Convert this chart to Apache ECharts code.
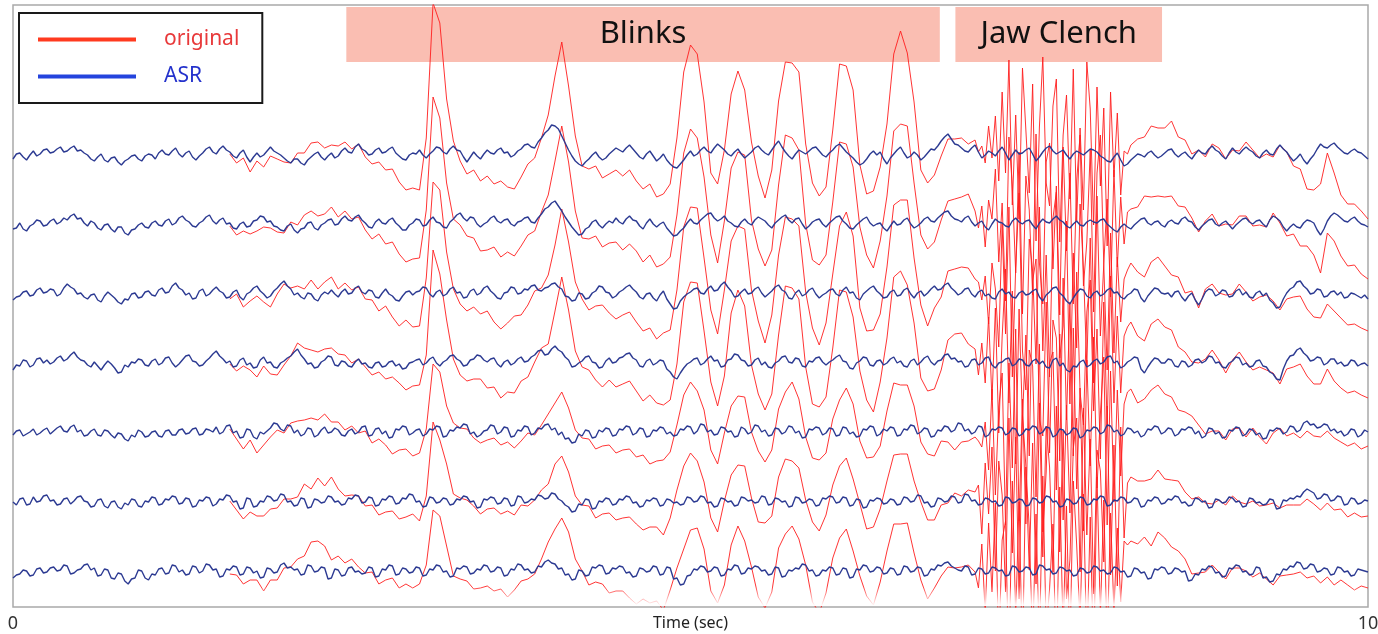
<!DOCTYPE html>
<html>
<head>
<meta charset="utf-8">
<title>original vs ASR</title>
<script src="https://cdn.jsdelivr.net/npm/echarts@6/dist/echarts.min.js"></script>
<style>
  html, body { margin: 0; padding: 0; background: #fff; }
  #chart { width: 1378px; height: 634px; }
</style>
</head>
<body>
<div id="chart"></div>
<script>
// 时间轴：0 ~ 10 s，每 0.025 s 一个采样
const t = []
for (let i = 0; i <= 400; i++) t.push(+(i * 0.025).toFixed(3))

// ASR 清洗后的 7 个通道（幅值，向上为正）
const asr1 = [
  -3, 2, 3,-1,-4, 1, 5, 0, 2, 6, 7, 3, 4, 7, 9, 4, 5, 8, 10, 5,
  6, 3, 1,-3,-5,-1, 2,-4,-6,-2,-1,-6,-9,-5,-3, 0, 1,-3,-5, 0,
  2, 1,-3, 3, 6, 2, 1, 5, 8, 2,-1, 3, 5,-1,-4, 0, 3, 7, 9, 4,
  2, 7, 10, 6, 4, 0,-2, 3, 6,-1,-6,-1, 3,-1, 1, 5, 9, 5, 3, 1,
  -2,-5,-7,-3,-3,-7,-9,-4,-1, 2, 4,-1,-4, 0, 3,-2, 0, 5, 8, 4,
  3, 9, 12, 7, 5, 1, 2, 6, 8, 3, 4, 7, 9, 3, 0,-3,-4, 1, 3, 2,
  6, 1,-2, 2, 5, 9, 8, 4, 2, 7, 10, 6, 5,-1,-6,-1, 4, 0,-3, 2,
  6, 3, 2, 6, 8, 3, 4,-1, 1, 5, 7, 11, 12, 9, 8, 14, 18, 23, 26, 31,
  30, 27, 20, 13, 6, 0,-5,-8,-10,-6,-3, 1, 4,-1,-4,-2, 2, 5, 8, 6,
  4, 8, 11, 7, 3,-1,-3, 2, 5, 0,-5,-2, 2,-4,-8,-11,-12,-8,-4, 1,
  5, 0, 2, 6, 9, 5, 3, 8, 12, 9, 6, 2, 0, 4, 7, 2,-2, 1, 4, 8,
  10, 6, 3, 1, 6, 11, 15, 9, 4, 0,-3, 2, 6, 4, 2, 5, 8, 9, 5, 1,
  -1, 3, 6, 10, 12, 8, 4, 1,-2,-6,-9,-7,-3, 2, 5, 1, 4,-3,-8,-2,
  2, 6, 9, 3,-2, 0, 4, 1,-4,-1, 3, 7, 6, 10, 15, 19, 22, 17, 12, 11,
  8, 5, 4, 8, 11, 4,-2, 1, 5, 3, 0, 5, 9, 3,-4, 1, 6, 2, 3, 6,
  8, 2,-5,-1, 4, 8, 10, 5, 2, 4, 6, 1,-3, 2, 5, 3, 1, 4, 7, 6,
  4, 0,-2,-5,-6,-1, 3,-4,-10,-8,-4,-1, 2, 1,-1, 3, 5, 1,-2, 0,
  3, 6, 7, 2,-1, 2, 4, 0,-3, 2, 6, 3, 2, 7, 10, 6, 4, 0,-3, 3,
  8, 4, 2, 6, 9, 6, 4, 0,-2, 3, 6, 2, 1, 7, 11, 7, 4,-1,-5,-2,
  2,-4,-8,-3, 1, 7, 12, 9, 8, 11, 13, 9, 6, 3, 2, 5, 7, 4, 3, 0,
  -3
]
const asr2 = [
  -4,-3, 2,-4,-6,-1, 1, 5, 4,-1, 0, 4, 6, 1, 3, 7, 5, 9, 11, 6,
  7, 2,-1, 4, 2,-3,-5, 0, 1,-4,-7,-2,-2,-8,-10,-5,-4, 0, 2,-2,
  -3, 2, 4, 0,-1, 4, 6, 0, 2, 7, 9, 5, 3,-1,-2, 2, 4, 8, 10, 4,
  1, 5, 7, 1, 2,-3,-4, 1, 3,-2,-1, 4, 5, 9, 8, 3, 4,-1,-2,-5,
  -6,-1, 1,-5,-8,-4,-3, 2, 3,-3,-5, 0, 2, 5, 6, 0, 1, 6, 9, 5,
  4, 8, 10, 5, 2,-2,-3, 3, 6, 2, 1, 5, 7, 2,-1,-5,-5, 0, 2, 6,
  5,-1, 0, 5, 8, 3, 2,-2,-3, 3, 6, 10, 12, 7, 4, 8, 7, 1,-2, 1,
  3, 7, 9, 4, 2, 5, 6, 1,-1, 3, 4, 7, 8, 3, 2, 7, 11, 16, 18, 22,
  24, 19, 14, 8, 3,-2,-6,-10,-9,-4,-2, 3, 5, 0,-3, 1, 4, 2, 7, 3,
  1, 6, 9, 5, 4,-1,-4, 2, 6, 1,-2, 1, 3,-3,-7,-11,-10,-6,-3, 2,
  6, 2, 1, 5, 8, 11, 12, 7, 4, 6, 9, 4, 2,-1,-2, 3, 6, 2, 0, 5,
  8, 6, 4, 0,-3, 2, 5, 8, 10, 5, 2, 6, 7, 1,-4,-1, 3, 5, 6, 1,
  -2, 2, 5, 8, 9, 4, 1,-3,-4, 0, 3, 6, 8, 2,-1, 1, 2,-3,-6,-1,
  4, 0, 1, 5, 7, 1,-3,-1, 2, 6, 8, 4, 3, 7, 10, 13, 14, 9, 6, 5,
  3, 7, 9, 3,-1, 2, 4,-2,-5, 1, 6, 3, 2,-1,-2, 4, 7, 3, 1, 4,
  5, 0,-4, 2, 6, 3, 2, 6, 9, 5, 3,-1,-3, 1, 4, 0,-1, 3, 5, 3,
  2, 5, 6, 1,-2,-5,-7,-2, 1,-2,-4, 0, 3, 6, 7, 2, 0, 3, 4, 0,
  -2, 3, 5, 2, 1, 6, 8, 4, 3,-2,-5,-1, 2, 5, 6, 1,-1, 2, 4, 0,
  -4, 0, 3, 6, 7, 3, 1, 4, 5, 1,-2, 5, 9, 7, 4,-2,-6,-2, 1,-2,
  -3, 2, 5, 4, 2,-5,-10,-4, 4, 9, 12, 10, 7, 4, 3, 6, 8, 4, 1, 0,
  -2
]
const asr3 = [
  -5,-2,-1, 3, 4,-1, 0, 5, 7, 2, 3, 6, 5,-1, 1, 7, 11, 8, 6, 1,
  2,-2,-4, 0, 1,-5,-7,-1, 3, 0,-3,-7,-9,-4,-5, 1, 2,-3,-2, 3,
  4, 0,-1, 5, 7, 2, 3, 9, 12, 7, 5, 0, 2,-4,-3, 4, 6,-1, 1, 5,
  8, 4, 2,-3,-2, 3, 5,-2,-5, 1, 3, 7, 9, 4, 1,-3,-1, 4, 7, 11,
  14, 9, 6, 0, 2,-2,-4, 2, 1,-4,-6, 0, 3, 1, 5, 1,-2, 3, 6, 1,
  2, 7, 9, 3, 1, 5, 4,-2,-3, 2, 6, 1,-1,-5,-6,-1, 3, 4, 0, 3,
  4, 8, 7, 1,-2, 3, 5,-1, 1, 6, 8, 2, 3,-3,-2, 4, 6, 0, 2, 7,
  9, 4, 1,-3,-4, 2, 3, 8, 7, 1, 2, 6, 5, 9, 10, 5, 4, 7, 8, 11,
  12, 8, 6,-1,-2,-6,-5, 2, 1,-4,-3, 2, 4, 9, 8, 3, 2,-3,-1, 3,
  5, 8, 10, 6, 3,-2,-4, 1, 2,-3,-6, 0, 4,-4,-9,-14,-13,-6,-2, 1,
  3, 6, 7, 2, 1, 6, 9, 4, 5, 10, 13, 8, 4,-2,-1, 3, 6, 1, 2, 6,
  8, 2,-2, 1, 4, 8, 10, 5, 3,-3,-4, 2, 5,-1, 1, 5, 7, 1,-3, 0,
  2, 5, 6, 1,-1, 5, 8, 2, 3,-3,-5, 1, 4, 7, 9, 4, 1,-3,-2, 3,
  5,-1, 0, 5, 7, 1,-3, 2, 4,-1, 2, 6, 9, 5, 6, 10, 12, 7, 4, 0,
  2, 6, 7, 1,-2, 3, 5,-1, 1,-3,-4, 3, 6, 1, 3,-2,-3, 2, 4, 0,
  1, 4, 6,-2,-6, 0, 3, 7, 8, 2,-1,-6,-9,-3, 2, 6, 5,-1,-3, 2,
  4,-1, 1, 5, 7, 2, 3,-2,-4, 0, 2, 6, 5,-3,-7,-1, 3, 7, 6, 2,
  1, 2,-2, 3, 4,-2,-6,-1, 2,-5,-10,-4, 3, 6, 5,-1, 1, 5, 4,-2,
  -1, 4, 6, 0, 3,-2,-3, 2, 4,-1, 2,-5,-8,-13,-12,-4, 2, 6, 8, 13,
  14, 9, 6, 1, 2, 6, 5,-2,-1, 3, 4, 0, 3,-3,-2, 2, 1,-1,-3, 0,
  -4
]
const asr4 = [
  -6,-1,-2, 4, 3,-3,-1, 5, 6, 1, 4, 0, 2, 6, 8, 3, 5, 9, 12, 7,
  4, 3,-1,-3, 2,-2,-6,-1, 3, 0,-4,-9,-8,-1,-3, 2, 1, 5, 4,-1,
  -2, 3, 5,-1, 1, 6, 7, 1,-3, 0, 4, 8, 9, 3, 2,-2,-1, 3, 6, 10,
  13, 8, 5, 1, 3,-3,-2, 4, 6,-1, 1,-4,-3, 4, 7, 1, 2,-3,-4, 1,
  3, 6, 8, 12, 15, 9, 5, 0, 1,-4,-3, 2, 4, 8, 7,-1,-2, 3, 2,-2,
  -3, 2, 5, 0, 1,-3,-4, 1, 2,-3,-2, 2, 3,-2, 0,-5,-4, 1, 2, 4,
  5,-1, 1, 5, 7, 1,-2, 2, 4, 8, 9, 5, 3,-2,-1, 4, 5, 9, 8, 4,
  2, 5, 6, 0,-3, 2, 4,-1, 1, 5, 7, 2, 3, 7, 9, 13, 14, 9, 10, 15,
  18, 14, 12, 7, 4,-3,-2, 1, 3, 7, 8, 2, 1,-4,-3, 3, 6, 1, 2, 6,
  7, 10, 11, 6, 4,-2,-3, 3, 5,-1, 1, 4, 3,-5,-8,-13,-15,-9,-4, 0,
  2, 5, 6,-1, 1, 5, 8, 3, 4,-3,-2, 4, 5, 10, 9, 4, 3,-2,-1, 4,
  6,-1, 2,-3,-4, 1, 3, 7, 8, 2, 1, 6, 5,-2,-3, 3, 2, 6, 7, 2,
  -1, 2, 4, 7, 9, 3, 2,-4,-5, 1, 3, 7, 6,-1,-2, 3, 4,-1, 1, 5,
  7, 1, 3,-2,-3, 3, 5,-1, 2, 6, 8, 2,-1, 3, 4, 9, 10, 5, 6, 2,
  3,-3,-2, 4, 5,-1, 1, 6, 7,-1,-4, 1, 2, 5, 6,-2, 0, 5, 4,-1,
  -2, 3, 5, 0, 3,-3,-4, 4, 6,-2, 1,-6,-8,-2,-3, 2, 4,-3,-1, 3,
  5, 0, 2, 7, 8, 1, 3,-4,-2, 2, 4, 7, 6,-5,-9,-3, 2, 6, 5, 1,
  1, 5, 4,-2,-3, 3, 2,-3,-1, 4, 5, 1, 3, 8, 7, 1, 2,-3,-4, 1,
  3, 7, 6,-1, 1,-3,-2, 3, 4,-2,-3,-8,-10,-15,-16,-5, 3, 8, 9, 14,
  16, 11, 8, 3, 4, 7, 6,-1, 1, 5, 5, 0, 2,-2,-1, 4, 3,-2, 0, 1,
  -2
]
const asr5 = [
  -2, 2, 3,-3,-1, 1, 4,-2, 0, 3, 5,-1, 2, 5, 7, 2, 1, 6, 8, 1,
  3,-3,-2, 2, 4,-2,-3, 3, 2,-2,-5, 0,-1,-6,-8,-2,-4, 3, 1,-4,
  -3, 1, 2,-3,-4, 2, 3,-2,-2, 3, 4,-1, 0, 4, 5,-2,-1, 4, 3, 1,
  6,-1, 1, 7, 8, 0, 2,-5,-4, 4, 3,-4,-6, 1,-1, 2, 5, 10, 9, 4,
  2, 8, 7, 0, 3,-3,-1, 5, 4,-4,-2, 3, 6, 0, 1, 5, 3,-2,-3, 2,
  4,-1, 1, 6, 7,-3,-2, 4, 5,-1, 2,-5,-4, 4, 3, 7, 6,-2, 0, 3,
  4,-3,-1, 4, 3, 7, 6,-4,-3, 3, 2, 6, 5, 9, 8,-1, 1,-4,-2, 2,
  3, 8, 7,-1, 1, 6, 5,-4,-3, 3, 2, 7, 6,-2, 0, 5, 4, 8, 9, 3,
  5,-2, 1,-6,-5,-10,-9,-1,-3, 3, 2,-5,-4, 3, 1, 5, 4,-3,-2, 4,
  3, 7, 6,-2, 0, 5, 4,-4,-3, 3, 2, 6, 5,-1, 1,-3,-2, 4, 3, 7,
  6,-1, 2, 9, 8, 1, 3,-2,-1, 6, 5, 1, 2,-4,-3, 6, 4,-1, 1, 8,
  7, 1, 3,-3,-2, 5, 4,-1, 1, 7, 6, 0, 2,-5,-4, 4, 3, 6, 5,-2,
  0, 5, 4,-3,-2, 6, 5,-1, 1,-4,-3, 4, 3, 7, 6,-3,-1, 4, 2, 6,
  5,-3,-2, 4, 3, 8, 7,-1, 1, 5, 4,-4,-3, 3, 2, 7, 6, 1, 3, 10,
  9, 2, 4,-1, 1, 7, 6,-4,-2, 4, 3, 6, 5,-2, 0, 5, 4,-3,-1, 4,
  3, 7, 6,-1, 1, 6, 5,-4,-2, 4, 3,-2, 0, 5, 4,-5,-3, 3, 2, 6,
  5,-1, 1, 8, 7, 1, 3,-3,-1, 5, 4, 0, 2,-4,-2, 4, 3, 7, 6,-1,
  1, 5, 4,-3,-1, 4, 3, 6, 5,-1, 2,-5,-3, 5, 4,-1, 1,-5,-4, 3,
  2, 6, 5,-3,-1, 4, 3,-2, 0,-6,-5, 3, 2, 5, 4,-1, 1, 7, 6, 1,
  3, 10, 12, 8, 9, 5, 6, 9, 8, 2, 4, 0, 2,-3,-1, 4, 3,-4,-2, 3,
  1
]
const asr6 = [
  1,-2, 4, 5,-2,-1, 6, 1, 2, 7, 8, 2, 3,-2,-1, 4, 5,-1, 2, 6,
  7, 2, 1,-4,-3, 3, 4,-3,-5, 1, 2,-4,-6, 0,-2, 4, 3,-3,-4, 2,
  1, 6, 5,-2,-1, 4, 3, 7, 6,-1, 0, 5, 4,-4,-3, 3, 2, 6, 5,-3,
  -1, 4, 3, 8, 7, 1, 2,-6,-5, 5, 4,-4,-3, 2, 1, 7, 6, 2, 3, 9,
  8, 1, 2,-3,-2, 5, 4,-5,-4, 4, 3, 0, 1, 7, 6, 1, 2,-2,-1, 5,
  4, 8, 7, 0, 1, 6, 5,-3,-2, 4, 3, 7, 6,-1, 0, 5, 4, 9, 8, 1,
  2,-4,-3, 6, 5, 0, 1, 5, 4,-2,-1, 4, 3, 7, 6, 1, 2,-5,-4, 4,
  3, 6, 5,-1, 0, 5, 4,-3,-2, 7, 6, 0, 1, 4, 3, 8, 7, 4, 5, 10,
  9, 4, 2,-2,-4,-9,-8,-1,-2, 4, 3,-6,-5, 2, 1, 5, 4,-2,-1, 4,
  3, 7, 6, 0, 1,-4,-3, 3, 2, 5, 4,-3,-2, 4, 3, 0, 1,-2,-1, 6,
  5, 1, 2, 7, 6, 0, 1,-4,-3, 5, 4, 1, 2,-3,-2, 6, 5, 2, 3, 0,
  1, 7, 6,-2,-1, 5, 4, 1, 2,-4,-3, 6, 5, 0, 1, 4, 3,-3,-2, 5,
  4, 7, 6, 0, 1, 6, 5,-3,-2, 4, 3,-5,-4, 3, 2, 5, 4,-1, 0, 4,
  3,-2,-1, 6, 5, 1, 2, 8, 7, 0, 1,-4,-3, 5, 4, 1, 2, 7, 6, 0,
  1, 9, 8, 2, 3,-2,-1, 5, 4, 1, 2,-3,-2, 6, 5, 0, 1, 4, 3,-3,
  -2, 5, 4, 0, 1, 7, 6, 1, 2,-4,-3, 4, 3,-1, 0, 6, 5,-2,-1, 4,
  3, 7, 6,-3,-2, 3, 2, 6, 5, 0, 1, 5, 4,-4,-3, 3, 2, 6, 5,-1,
  0, 4, 3, 7, 6, 0, 1,-3,-2, 5, 4, 1, 2,-5,-4, 4, 3, 0, 1, 6,
  5, 1, 2,-4,-3, 5, 4, 0, 1,-2,-1, 4, 3,-6,-5, 3, 2, 5, 4, 7,
  6, 11, 14, 12, 10, 4, 5, 9, 8, 2, 3, 7, 6,-2,-1, 5, 4,-1, 0, 3,
  2
]
const asr7 = [
  -6,-3,-2, 2, 1,-4,-3, 3, 4,-1, 0, 4, 5, 1, 2, 7, 6,-2,-1, 2,
  3, 7, 8, 2, 4,-4,-3, 3, 2,-6,-7,-1,-2,-9,-12,-7,-6, 2, 1,-6,
  -8,-2,-3, 3, 4,-2,-1, 7, 6, 0, 2,-3,-2, 6, 5,-1, 1, 8, 7, 2,
  3,-5,-4, 3, 2, 6, 5,-3,-2, 5, 4,-1, 1,-6,-5, 4, 3,-1, 0, 7,
  9, 4, 5, 2, 3,-3,-2, 7, 6, 0, 1, 5, 4,-7,-6, 3, 2,-4,-3, 4,
  5, 0, 1,-2,-1, 5, 4,-5,-4, 3, 2, 7, 6,-3,-2, 4, 3,-1, 0, 5,
  4,-4,-3, 3, 2, 7, 6, 0, 1,-5,-4, 4, 3, 6, 5,-2,-1, 3, 2, 7,
  6, 0, 1, 5, 4,-4,-3, 3, 2, 8, 7, 2, 3,-1, 0, 6, 5, 10, 12, 9,
  8, 3, 4,-3,-2,-8,-7, 2, 1,-4,-3, 5, 4, 7, 6,-2,-1, 4, 3, 6,
  5,-1, 0,-5,-4, 4, 3, 0, 1, 6, 5,-3,-2, 5, 4,-7,-6,-13,-12,-4,
  -3, 3, 2, 6, 5, 0, 1, 5, 4,-4,-3, 3, 2, 7, 6,-2,-1, 4, 3, 6,
  5, 1, 2,-3,-2, 5, 4,-5,-4, 2, 1, 4, 3, 8, 7, 1, 2,-4,-3, 2,
  1, 5, 4,-3,-2, 4, 3,-6,-5, 3, 2, 7, 6, 0, 1, 5, 4,-2,-1, 4,
  3,-3,-2, 6, 5, 0, 1, 5, 4,-4,-3, 3, 2, 7, 6, 9, 10, 6, 4, 2,
  1, 6, 5,-3,-2, 4, 3,-2,-1, 5, 4, 1, 2,-4,-3, 6, 5, 0, 1, 5,
  4,-3,-2, 7, 6, 2, 3,-2,-1, 5, 4, 1, 2,-4,-3, 4, 3,-1, 0, 6,
  5, 1, 2,-2,-1, 5, 4, 0, 1,-5,-4, 4, 3,-1, 0,-7,-6, 3, 2, 5,
  4,-2,-1, 4, 3, 0, 1,-9,-8,-2,-3, 3, 2, 6, 5,-1, 0,-5,-4, 4,
  3, 7, 6, 0, 1,-3,-2, 5, 4,-6,-5,-10,-9,-2,-3, 3, 2, 6, 5, 10,
  9, 3, 4, 8, 7, 0, 1, 4, 3,-3,-2, 5, 4, 0, 1,-4,-3, 3, 2, 1,
  0
]

// original 与 ASR 之差：眨眼段（1.6 ~ 7.1 s，每 0.05 s）
const blinkStart = 64
const blinkArt1 = [
  -2,-5,-8,-10,-8,-12,-9,-6,-4, 0,   6, 12, 14, 10, 12, 8, 10, 6, 4, 0,
  -6,-10,-14,-18,-22,-26,-30,-35,-40, 20,   148, 125, 55, 5,-10,-12,-18,-22,-26,-30,
  -33,-35,-34,-28,-20,-10, 0, 15, 50, 94,   64, 25, 0,-10,-14,-18,-20,-22,-24,-25,
  -28,-30,-33,-36,-40,-20, 30, 88, 106, 100,   45,-20,-40, 0, 62, 78, 68, 10,-30,-45,
  -20, 40, 90, 96, 78, 10,-35,-45,-30, 20,   80, 86, 68, 0,-35,-40,-15, 40, 100, 116,
  105, 50,-10,-30,-25,-15,-5, 5, 10, 8,   5
]
const blinkArt2 = [
  -3,-6,-9,-8,-11,-10,-7,-5,-2, 2,   8, 13, 11, 14, 9, 12, 7, 5, 2,-2,
  -7,-11,-15,-20,-24,-28,-32,-36,-38, 15,   120, 105, 45, 0,-12,-15,-20,-24,-28,-31,
  -34,-33,-30,-25,-18,-8, 2, 12, 40, 85,   60, 20,-4,-12,-16,-19,-22,-24,-26,-28,
  -30,-33,-36,-40,-42,-25, 20, 75, 90, 86,   40,-22,-42,-5, 55, 75, 64, 5,-32,-45,
  -22, 35, 80, 85, 68, 5,-38,-46,-28, 18,   74, 80, 62,-5,-38,-42,-18, 35, 90, 100,
  92, 45,-12,-32,-20,-5, 10, 20, 25, 22,   15
]
const blinkArt3 = [
  -2,-4,-7,-9,-10,-8,-11,-6,-3, 1,   7, 10, 14, 12, 10, 13, 8, 6, 3,-1,
  -5,-9,-13,-17,-21,-25,-28,-32,-35, 10,   115, 100, 42,-2,-12,-14,-18,-21,-25,-28,
  -30,-31,-28,-22,-15,-6, 3, 12, 38, 80,   55, 18,-5,-12,-15,-18,-20,-23,-25,-27,
  -30,-32,-35,-38,-42,-26, 18, 70, 85, 80,   36,-24,-44,-8, 50, 70, 60, 3,-34,-46,
  -24, 30, 75, 80, 64, 2,-40,-47,-30, 15,   70, 75, 56,-8,-40,-44,-20, 30, 85, 95,
  88, 40,-14,-33,-22,-8, 12, 22, 26, 20,   18
]
const blinkArt4 = [
  -3,-5,-8,-7,-10,-9,-12,-7,-4, 0,   6, 11, 13, 15, 11, 9, 12, 7, 4, 0,
  -4,-7,-10,-13,-16,-19,-22,-24,-26, 8,   107, 92, 40,-4,-14,-16,-20,-23,-26,-29,
  -31,-32,-30,-24,-16,-7, 2, 10, 35, 75,   50, 15,-6,-14,-17,-20,-22,-25,-27,-28,
  -31,-34,-36,-40,-44,-28, 15, 66, 80, 75,   32,-26,-46,-10, 46, 65, 55, 0,-36,-48,
  -26, 26, 70, 75, 60, 0,-42,-50,-32, 12,   65, 70, 52,-10,-42,-46,-22, 25, 80, 90,
  82, 36,-16,-35,-24,-10, 14, 24, 28, 22,   10
]
const blinkArt5 = [
  -4,-8,-12,-10,-14,-11,-9,-6,-2, 3,   9, 14, 11, 15, 13, 10, 8, 6, 3,-1,
  -5,-8,-11,-14,-17,-20,-22,-23,-24, 5,   66, 55, 30, 8, 0,-4,-6,-8,-10,-12,
  -13,-14,-12,-10,-6,-2, 4, 10, 25, 40,   30, 12,-2,-8,-12,-14,-16,-18,-20,-22,
  -24,-26,-28,-30,-32,-20, 10, 35, 45, 40,   15,-20,-30,-5, 25, 40, 32, 0,-25,-32,
  -15, 20, 40, 45, 32, 0,-28,-32,-20, 10,   35, 40, 28,-5,-28,-30,-12, 20, 45, 50,
  45, 20,-10,-25,-20,-10,-15,-20,-18,-12,   -5
]
const blinkArt6 = [
  -5,-9,-11,-13,-10,-14,-12,-8,-4, 2,   8, 15, 18, 22, 16, 20, 12, 8, 4, 0,
  -4,-7,-10,-12,-14,-16,-18,-19,-20, 10,   76, 62, 35, 10, 2,-3,-5,-7,-9,-10,
  -11,-12,-10,-8,-4, 0, 6, 14, 30, 45,   35, 15, 0,-6,-10,-12,-14,-16,-18,-20,
  -22,-24,-26,-28,-30,-18, 12, 38, 45, 40,   15,-16,-26,-2, 26, 40, 32, 2,-20,-26,
  -12, 22, 42, 45, 30, 2,-22,-26,-16, 12,   36, 40, 26,-4,-22,-26,-10, 22, 45, 50,
  44, 20,-6,-18,-14,-6,-2, 4, 6, 5,   8
]
const blinkArt7 = [
  -4,-8,-10,-12,-9,-14,-11,-8,-5, 0,   10, 18, 24, 30, 22, 18, 14, 12, 8, 4,
  0,-4,-8,-10,-12,-14,-15,-16,-16, 10,   60, 50, 25, 0,-10,-14,-16,-18,-20,-20,
  -21,-22,-20,-16,-10,-2, 8, 18, 35, 50,   42, 20, 0,-10,-14,-18,-20,-22,-24,-26,
  -28,-30,-32,-34,-36,-22, 10, 35, 45, 42,   18,-20,-35,-10, 25, 40, 32, 2,-30,-38,
  -18, 20, 42, 45, 30, 0,-32,-38,-22, 10,   36, 40, 26,-6,-30,-34,-14, 22, 45, 50,
  44, 18,-12,-24,-18,-10,-5, 0, 4, 2,   2
]

// 咬牙段（7.125 ~ 8.25 s，每 0.025 s）
const jawStart = 285
const jawArt1 = [0, 12,-8, 25,-5, 40,-30, 55,-20, 100,-50, 35,-65, 85, 20,-45, 70,-80, 30, 95,-35,-60, 45, 75,-90, 15, 60,-40, 85,-70, 25,-55, 90, 40,-75, 65,-30, 50,-85, 70,-20, 40,-35, 15, 10, 15]
const jawArt2 = [-5, 15,-20, 30, 5, 50,-40, 20,-75, 90, 35,-55, 70,-90, 45, 10,-70, 95,-40,-85, 60, 80,-50, 30,-95, 75,-25, 55,-80, 40, 90,-60,-20, 70,-90, 50, 85,-45, 25,-70, 60,-35, 30,-20, 15, 20]
const jawArt3 = [10,-10, 20,-30, 35, 10,-55, 65,-40, 85,-80, 30, 100,-60,-95, 55, 20,-75, 90,-50, 40,-85, 70, 95,-65,-30, 80,-100, 45,-55, 85, 20,-70, 60,-90, 95,-40, 30,-80, 55,-60, 35,-25, 20, 25, 30]
const jawArt4 = [-10, 20,-25, 40,-35, 60,-70, 25, 90,-45, 75,-100, 50,-60, 30,-90, 80, 100,-55,-75, 65,-85, 40, 20,-95, 85,-50, 70,-90, 95,-30,-65, 55, 85,-50, 30,-95, 60,-70, 80,-40, 45,-25, 30, 35, 38]
const jawArt5 = [-15,-20, 15,-35, 40,-65, 20, 55,-90, 70,-40, 100,-85, 35,-95, 80, 60,-70, 90,-100,-45, 65, 85,-55, 95,-90, 30,-80, 100,-60, 50,-95, 70,-35, 90,-60, 20, 75,-100, 55,-70, 40,-40, 30, 36, 40]
const jawArt6 = [20,-30, 35,-15, 55,-70, 45, 10,-95, 80,-50, 65,-100, 85, 40,-65, 55,-85, 100,-55, 70, 30,-70, 95,-45, 75,-100,-60, 55, 85,-75, 90,-30, 65,-95, 50, 25,-65, 100,-70, 55,-85, 70,-40, 20, 25]
const jawArt7 = [-20, 25,-40, 50,-25, 65,-80, 30, 55,-100, 85,-50, 70,-90, 100, 40,-70, 60,-85, 90,-60,-20, 50,-100, 80,-65, 65,-85, 95, 30,-55, 75,-80, 55,-100, 90,-45, 70,-75, 60,-45, 40,-30, 30, 32, 35]

// 咬牙之后（8.3 ~ 10 s，每 0.05 s）
const tailStart = 332
const tailArt1 = [15, 20, 25, 30, 25, 28, 20, 12, 5, 0,-3, 2, 4, 0,-2, 3, 5, 2, 0,-4,-2, 0, 0,-5,-15,-25,-35,-40,-5,-30,-45,-50,-55,-58,-60]
const tailArt2 = [15, 22, 28, 25, 30, 24, 18, 10, 4,-2, 2, 5, 0,-3, 4, 6, 2,-2,-5, 0, 3,-2,-5,-10,-18,-26,-32,-38,-12,-28,-38,-44,-48,-50,-52]
const tailArt3 = [18, 25, 30, 32, 28, 22, 14, 8, 2,-3, 3, 6, 1,-4, 2, 5, 0,-3,-6,-2, 2,-3,-6,-10,-15,-20,-24,-28,-8,-20,-26,-28,-30,-30,-32]
const tailArt4 = [22, 32, 38, 40, 36, 30, 20, 10, 3,-4, 2, 7, 2,-5, 1, 6, 1,-4,-7,-3, 1,-4,-8,-12,-16,-20,-24,-26,-6,-22,-26,-28,-30,-31,-32]
const tailArt5 = [28, 36, 40, 42, 38, 32, 24, 18, 12, 6, 2,-2, 1,-3, 2, 0,-3, 2,-4,-6,-2, 1,-4,-6,-8,-10,-12,-10,-6,-9,-11,-12,-13,-14,-14]
const tailArt6 = [18, 25, 22, 28, 24, 20, 16, 10, 6, 2,-2, 3, 0,-3, 2,-1, 2,-2,-4,-1,-3, 0,-4,-6,-8,-10,-11,-12,-8,-10,-12,-13,-14,-14,-15]
const tailArt7 = [25, 35, 32, 38, 30, 26, 18, 12, 6, 2,-2, 2, 0,-3, 1,-2, 0,-3,-5,-2,-4,-1,-5,-7,-9,-10,-11,-12,-8,-11,-12,-14,-15,-16,-16]

const asr = [asr1, asr2, asr3, asr4, asr5, asr6, asr7]
const blinkArt = [blinkArt1, blinkArt2, blinkArt3, blinkArt4, blinkArt5, blinkArt6, blinkArt7]
const jawArt = [jawArt1, jawArt2, jawArt3, jawArt4, jawArt5, jawArt6, jawArt7]
const tailArt = [tailArt1, tailArt2, tailArt3, tailArt4, tailArt5, tailArt6, tailArt7]

// 标注区间（秒）
const bands = [
  {name: 'Blinks', from: 2.46, to: 6.84},
  {name: 'Jaw Clench', from: 6.955, to: 8.48}
]
const xTicks = [0, 10]

// 布局：绘图区像素范围、各通道基线的像素位置
const plotTop = 5
const plotBottom = 607
const centers = [156, 225, 295, 364, 433, 503, 572]
const bandTop = 7
const bandBottom = 62

const RED = 'rgba(255,30,30,0.9)'
const BLUE = '#2c3a92'

// 1. 初始化
const myChart = echarts.init(document.getElementById('chart'))

// 2. 组装 series：original = ASR + 伪迹
const originalData = k => {
  const a = asr[k]
  const pts = []
  blinkArt[k].forEach((v, j) => pts.push([t[blinkStart + 2 * j], a[blinkStart + 2 * j] + v]))
  jawArt[k].forEach((v, m) => pts.push([t[jawStart + m], a[jawStart + m] + v]))
  tailArt[k].forEach((v, n) => pts.push([t[tailStart + 2 * n], a[tailStart + 2 * n] + v]))
  return pts
}

const yAxis = centers.map(c => ({
  type: 'value', gridIndex: 0, show: false,
  min: c - plotBottom, max: c - plotTop
}))

const series = []
asr.forEach((a, k) => {
  series.push({
    name: 'original', type: 'line', yAxisIndex: k, z: 3,
    showSymbol: false, symbol: 'none',
    lineStyle: {color: RED, width: 1}, itemStyle: {color: RED},
    data: originalData(k)
  })
})
asr.forEach((a, k) => {
  series.push({
    name: 'ASR', type: 'line', yAxisIndex: k, z: 4,
    showSymbol: false, symbol: 'none',
    lineStyle: {color: BLUE, width: 1.4}, itemStyle: {color: BLUE},
    data: a.map((v, i) => [t[i], v])
  })
})
// 粉色标注框
series.push({
  type: 'line', yAxisIndex: 0, z: 1, data: [],
  markArea: {
    silent: true,
    itemStyle: {color: 'rgb(250,190,178)'},
    label: {show: true, position: 'inside', color: '#111', fontSize: 31, fontFamily: 'Noto Sans'},
    data: bands.map(b => [
      {name: b.name, xAxis: b.from, yAxis: centers[0] - bandTop},
      {xAxis: b.to, yAxis: centers[0] - bandBottom}
    ])
  }
})

const option = {
  animation: false,
  backgroundColor: '#fff',
  grid: {
    left: 13, right: 10, top: plotTop, bottom: 634 - plotBottom,
    containLabel: false, outerBoundsMode: 'none',
    show: true, borderColor: '#a9a9a9', borderWidth: 1.5
  },
  legend: {
    left: 19, top: 13, orient: 'vertical',
    borderColor: '#1a1a1a', borderWidth: 2, borderRadius: 0,
    padding: [16, 23, 16, 19],
    itemWidth: 98, itemHeight: 4, itemGap: 16, icon: 'rect',
    selectedMode: false,
    textStyle: {fontSize: 21, fontFamily: 'Noto Sans', padding: [0, 0, 0, 23]},
    data: [
      {name: 'original', itemStyle: {color: '#ff3a1f'}, textStyle: {color: '#e8393a'}},
      {name: 'ASR', itemStyle: {color: '#2444dd'}, textStyle: {color: '#2432cc'}}
    ]
  },
  xAxis: {
    type: 'value', min: xTicks[0], max: xTicks[1], interval: 10,
    axisLine: {show: false}, axisTick: {show: false}, splitLine: {show: false},
    axisLabel: {fontSize: 18, color: '#333', margin: 8, fontFamily: 'Noto Sans'},
    name: 'Time (sec)', nameLocation: 'middle', nameGap: 8, nameMoveOverlap: false,
    nameTextStyle: {fontSize: 16, color: '#222', fontFamily: 'Noto Sans', verticalAlign: 'top'}
  },
  yAxis: yAxis,
  series: series,
  // 底部渐隐
  graphic: [{
    type: 'rect', z: 100, silent: true,
    shape: {x: 14, y: 586, width: 1353, height: 20},
    style: {
      fill: new echarts.graphic.LinearGradient(0, 0, 0, 1, [
        {offset: 0, color: 'rgba(255,255,255,0)'},
        {offset: 1, color: 'rgba(255,255,255,1)'}
      ])
    }
  }]
}

// 3. 渲染
myChart.setOption(option)
</script>
</body>
</html>
